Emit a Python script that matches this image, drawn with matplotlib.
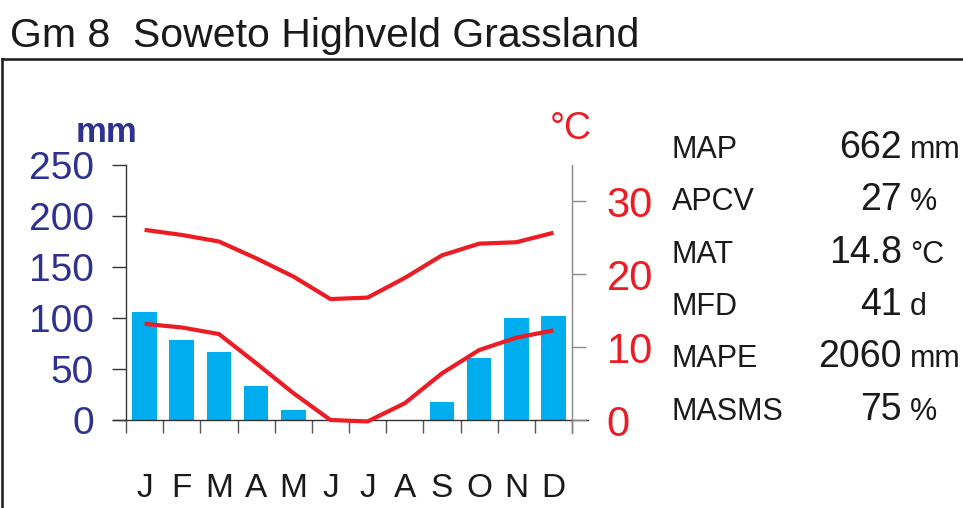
import numpy as np
import matplotlib
matplotlib.use("Agg")
import matplotlib.pyplot as plt
from matplotlib.lines import Line2D

# climate diagram data
months = ['J', 'F', 'M', 'A', 'M', 'J', 'J', 'A', 'S', 'O', 'N', 'D']
rain_mm = [106, 78, 67, 33, 9.5, 0, 0, 0, 17.5, 61, 100, 102]
tmax_c = [26.1, 25.4, 24.5, 22.2, 19.7, 16.6, 16.8, 19.5, 22.6, 24.2, 24.4, 25.7]
tmin_c = [13.2, 12.7, 11.8, 7.8, 3.7, 0.0, -0.2, 2.3, 6.4, 9.6, 11.3, 12.3]
rain_ticks = [0, 50, 100, 150, 200, 250]
temp_ticks = [0, 10, 20, 30]

stat_names = ['MAP', 'APCV', 'MAT', 'MFD', 'MAPE', 'MASMS']
stat_values = ['662', '27', '14.8', '41', '2060', '75']
stat_units = ['mm', '%', '°C', 'd', 'mm', '%']

title = 'Gm 8  Soweto Highveld Grassland'

NAVY = '#2E3192'
RED = '#ED1C24'
CYAN = '#00AEEF'
FONT = ['Liberation Sans', 'DejaVu Sans']

W, H = 963, 508
fig = plt.figure(figsize=(W / 100, H / 100), dpi=100)


def fx(px):
    return px / W


def fy(py):
    return 1 - py / H


# outer frame (top and left edges only visible)
fig.add_artist(Line2D([fx(2), 1.01], [fy(59), fy(59)], color='#222222', lw=1.9))
fig.add_artist(Line2D([fx(2), fx(2)], [fy(59), -0.01], color='#222222', lw=1.9))

fig.text(fx(10), fy(47), title, fontsize=29.5, family=FONT, color='#1a1a1a',
         ha='left', va='baseline')

ax = fig.add_axes([fx(126), fy(420), fx(572) - fx(126), fy(165) - fy(420)])
x = np.arange(12) + 0.5
ax.bar(x, rain_mm, width=0.66, color=CYAN, zorder=2)
ax.set_xlim(0, 12)
ax.set_ylim(0, 250)
ax.set_yticks(rain_ticks)
ax.set_yticklabels([str(t) for t in rain_ticks], fontsize=28, family=FONT, color=NAVY)
ax.tick_params(axis='y', direction='out', length=10, width=1, color='#333333', pad=13)

ax.set_xticks(np.arange(13))
ax.set_xticklabels([])
ax.set_xticks(x, minor=True)
ax.set_xticklabels(months, minor=True, fontsize=24, family=FONT, color='#1a1a1a')
ax.tick_params(axis='x', which='major', direction='out', length=9.5, width=1, color='#555555')
ax.tick_params(axis='x', which='minor', length=0, pad=38)

for s in ['top', 'right', 'bottom']:
    ax.spines[s].set_visible(False)
ax.spines['left'].set_color('#333333')
ax.spines['left'].set_linewidth(1)

# baseline running a bit past both axes
ax.add_line(Line2D([-0.03, 1.035], [0, 0], transform=ax.transAxes, color='#333333',
                   lw=1, clip_on=False, zorder=3))

ax2 = ax.twinx()
ax2.set_ylim(0, 35)
ax2.plot(x, tmax_c, color=RED, lw=3, solid_joinstyle='round', solid_capstyle='butt',
         clip_on=False, zorder=4)
ax2.plot(x, tmin_c, color=RED, lw=3, solid_joinstyle='round', solid_capstyle='butt',
         clip_on=False, zorder=4)
ax2.set_yticks(temp_ticks)
ax2.set_yticklabels([str(t) for t in temp_ticks], fontsize=30, family=FONT, color=RED)
ax2.tick_params(axis='y', direction='out', length=10, width=1, color='#888888', pad=15)
for s in ['top', 'left', 'bottom']:
    ax2.spines[s].set_visible(False)
ax2.spines['right'].set_color('#888888')
ax2.spines['right'].set_linewidth(1)
ax2.spines['right'].set_bounds(-1.8, 35)

fig.text(fx(107), fy(142), 'mm', fontsize=25, family=FONT, fontweight='bold',
         color=NAVY, ha='center', va='baseline')
fig.text(fx(571), fy(139), '°C', fontsize=27, family=FONT, color=RED,
         ha='center', va='baseline')

# summary statistics table
for i, (name, val, unit) in enumerate(zip(stat_names, stat_values, stat_units)):
    yb = fy(158 + 52.3 * i)
    fig.text(fx(672), yb, name, fontsize=22, family=FONT, color='#1a1a1a',
             ha='left', va='baseline')
    fig.text(fx(902), yb, val, fontsize=27, family=FONT, color='#1a1a1a',
             ha='right', va='baseline')
    fig.text(fx(910), yb, unit, fontsize=22, family=FONT, color='#1a1a1a',
             ha='left', va='baseline')

fig.savefig('out.png', dpi=100)
